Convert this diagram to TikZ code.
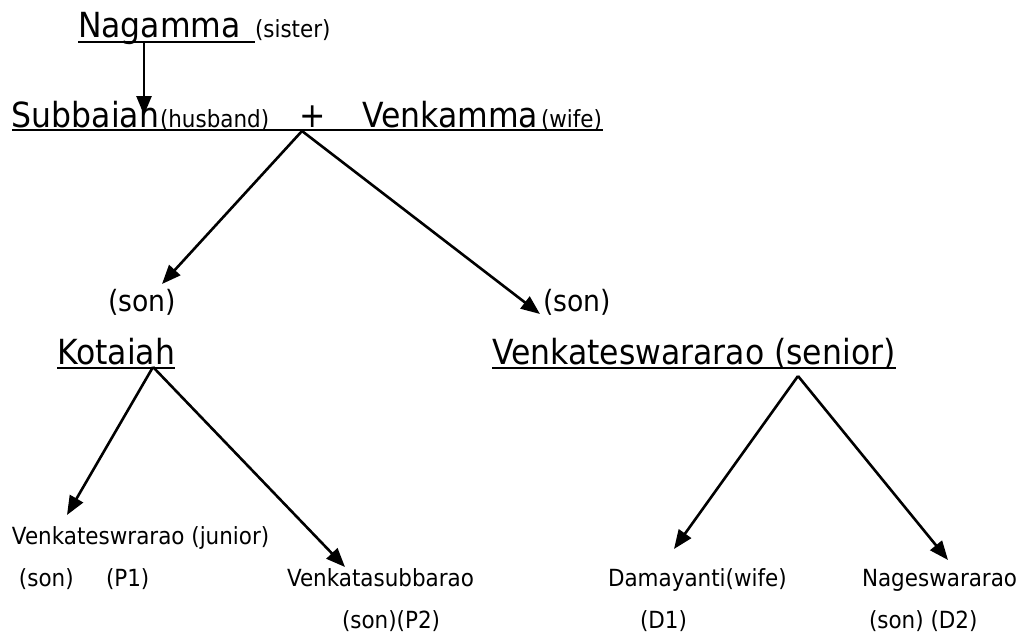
\documentclass[tikz,border=0pt]{standalone}
\usepackage{fontspec}
\setmainfont[FakeStretch=0.91]{DejaVu Sans}
\usetikzlibrary{arrows.meta}
\newcommand{\bigf}{\fontsize{34.6}{38}\selectfont}
\newcommand{\midf}{\fontsize{29.3}{33}\selectfont}
\newcommand{\smf}{\fontsize{23.6}{27}\selectfont}
\tikzset{
  txt/.style={anchor=base west, inner sep=0pt, outer sep=0pt},
  big/.style={txt, font=\bigf},
  mid/.style={txt, font=\midf},
  sm/.style={txt, font=\smf},
  uline/.style={line width=2.4pt},
  arr/.style={line width=2.6pt, -{Triangle[length=19pt,width=15pt]}}
}
\begin{document}
\begin{tikzpicture}[x=1pt,y=-1pt]
\useasboundingbox (0,0) rectangle (1017,633);
% row 1
\node[big] (nag) at (78,37) {Nagamma};
\node[sm] (sister) at (255,37) {(sister)};
\draw[uline] ([yshift=-5pt]nag.base west) -- ([yshift=-5pt]sister.base west);
% row 2
\node[big] (sub) at (12,127) {Subbaiah};
\node[sm] (husband) at (160,127) {(husband)};
\node[big, anchor=base] (plus) at (313,127) {+};
\node[big] (venk) at (362,127) {Venkamma};
\node[sm] (wife) at (541,127) {(wife)};
\draw[uline] ([yshift=-3pt]sub.base west) -- ([xshift=1pt,yshift=-3pt]wife.base east);
% sons
\node[mid] (son1) at (108,311) {(son)};
\node[mid] (son2) at (543,311) {(son)};
\node[big] (kot) at (57,364) {Kotaiah};
\draw[uline] ([yshift=-4pt]kot.base west) -- ([yshift=-4pt]kot.base east);
\node[big] (vs) at (492,364) {Venkateswararao (senior)};
\draw[uline] ([yshift=-4pt]vs.base west) -- ([yshift=-4pt]vs.base east);
% grandchildren
\node[sm] (vj) at (12,544) {Venkateswrarao (junior)};
\node[sm] (son3) at (19,586) {(son)};
\node[sm] (p1) at (106,586) {(P1)};
\node[sm] (vsub) at (287,586) {Venkatasubbarao};
\node[sm] (p2) at (342,628) {(son)(P2)};
\node[sm] (dam) at (608,586) {Damayanti(wife)};
\node[sm] (d1) at (640,628) {(D1)};
\node[sm] (nges) at (862,586) {Nageswararao};
\node[sm] (d2) at (869,628) {(son) (D2)};
% connector points
\coordinate (nagfoot) at (144,42);
\coordinate (subtop) at (144,115);
\coordinate (couple) at (302,131);
\coordinate (son1tip) at (162,284);
\coordinate (son2tip) at (540,314);
\coordinate (kotfoot) at (153,367);
\coordinate (vjtip) at (67,515);
\coordinate (vsubtip) at (345,567);
\coordinate (vsfoot) at (798,376);
\coordinate (damtip) at (674,549);
\coordinate (ngestip) at (948,560);
\draw[arr] (nagfoot) -- (subtop);
\draw[arr] (couple) -- (son1tip);
\draw[arr] (couple) -- (son2tip);
\draw[arr] (kotfoot) -- (vjtip);
\draw[arr] (kotfoot) -- (vsubtip);
\draw[arr] (vsfoot) -- (damtip);
\draw[arr] (vsfoot) -- (ngestip);
\end{tikzpicture}
\end{document}
